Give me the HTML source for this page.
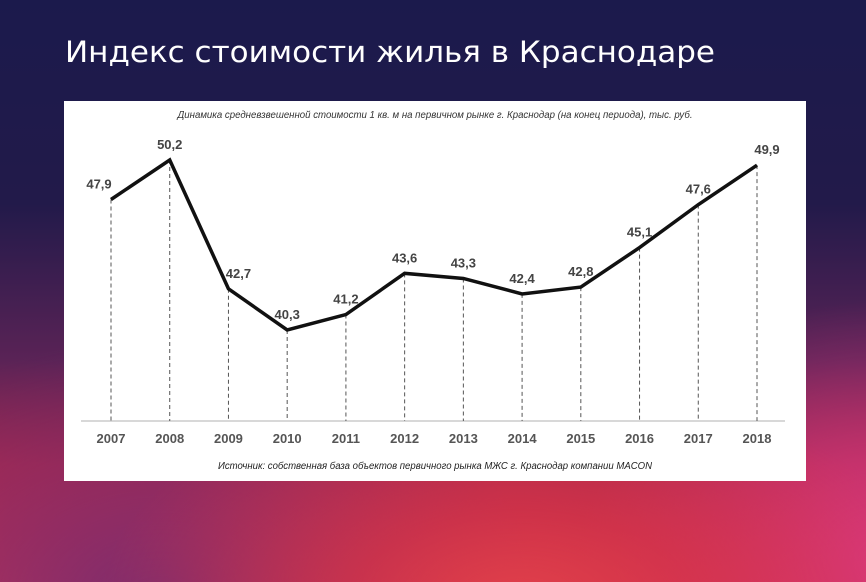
<!DOCTYPE html>
<html><head><meta charset="utf-8"><style>
html,body{margin:0;padding:0;width:866px;height:582px;overflow:hidden}
body{background:
radial-gradient(ellipse 420px 220px at 520px 600px,#e0404a 0%,rgba(216,52,70,0.7) 40%,rgba(216,52,70,0) 100%),
radial-gradient(ellipse 300px 260px at 880px 560px,#d8387e 0%,rgba(200,50,120,0) 100%),
radial-gradient(ellipse 380px 260px at 160px 600px,#7a2c6e 0%,rgba(110,40,100,0) 100%),
linear-gradient(180deg,#1b1a4c 0%,#221a4a 35%,#5a2356 62%,#a8284e 80%,#c83050 100%);
font-family:"Liberation Sans",sans-serif}
</style></head><body>
<svg width="866" height="582" viewBox="0 0 866 582">
<text x="65" y="62" font-family="DejaVu Sans, Liberation Sans, sans-serif" font-size="29" fill="#fff" textLength="650" lengthAdjust="spacingAndGlyphs">Индекс стоимости жилья в Краснодаре</text>
<rect x="64" y="101" width="742" height="380" fill="#fff"/>
<text x="435" y="118" text-anchor="middle" font-size="10" font-style="italic" fill="#333" textLength="515" lengthAdjust="spacingAndGlyphs">Динамика средневзвешенной стоимости 1 кв. м на первичном рынке г. Краснодар (на конец периода), тыс. руб.</text>
<line x1="81" y1="421" x2="785" y2="421" stroke="#ccc" stroke-width="1.5"/>
<g id="marks"></g>
<text x="435" y="469" text-anchor="middle" font-size="10" font-style="italic" fill="#222" textLength="434" lengthAdjust="spacingAndGlyphs">Источник: собственная база объектов первичного рынка МЖС г. Краснодар компании MACON</text>
</svg>
<script>
const years=["2007","2008","2009","2010","2011","2012","2013","2014","2015","2016","2017","2018"];
const values=[47.9,50.2,42.7,40.3,41.2,43.6,43.3,42.4,42.8,45.1,47.6,49.9];
const valueLabels=["47,9","50,2","42,7","40,3","41,2","43,6","43,3","42,4","42,8","45,1","47,6","49,9"];
const NS="http://www.w3.org/2000/svg";
function xs(i){return 111+i*(757-111)/(years.length-1);}
function ys(v){return 421-(v-35)*(261/15.2);}
const g=document.getElementById('marks');
function mk(t,a){const e=document.createElementNS(NS,t);for(const k in a)e.setAttribute(k,a[k]);g.appendChild(e);return e;}
years.forEach((y,i)=>{
 const d=mk('line',{x1:xs(i),y1:ys(values[i]),x2:xs(i),y2:421,stroke:'#555','stroke-width':1,'stroke-dasharray':'4,3'});
 
 
 const t=mk('text',{x:xs(i),y:443,'text-anchor':'middle','font-size':13,'font-weight':'bold',fill:'#555'});
 t.textContent=y;
 
 
});
const p=mk('polyline',{points:values.map((v,i)=>xs(i)+','+ys(v)).join(' '),fill:'none',stroke:'#111','stroke-width':3.5,'stroke-linejoin':'miter'});


values.forEach((v,i)=>{
 const dx=(i===0)?-12:(i===2||i===11)?10:(i===9)?0:0;
 const t=mk('text',{x:xs(i)+dx,y:ys(v)-11,'text-anchor':'middle','font-size':13,'font-weight':'bold',fill:'#444'});
 t.textContent=valueLabels[i];
 
 
});
</script>
</body></html>
